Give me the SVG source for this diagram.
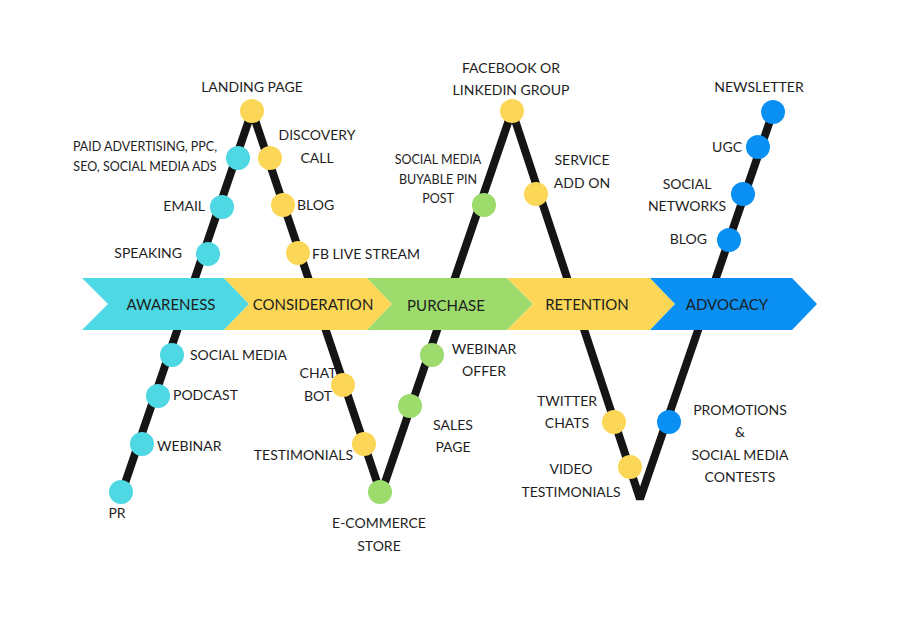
<svg xmlns="http://www.w3.org/2000/svg" width="900" height="630" viewBox="0 0 900 630">
<style>
.t{font-family:Lato,"Liberation Sans",sans-serif;font-size:14px;fill:#1e1e1e}
.s{font-size:12.5px}
.h{font-family:Lato,"Liberation Sans",sans-serif;font-size:15px;fill:#1e1e1e}
.c{fill:#4dd8e3}.y{fill:#fcd757}.g{fill:#9cdb6c}.b{fill:#0a8ff2}
</style>
<rect width="900" height="630" fill="#fff"/>
<g id="connectors">
<polyline points="122,492 252,111 381,494 512,111 640,499 773,112" fill="none" stroke="#151515" stroke-width="8" stroke-linejoin="bevel"/>
</g>
<g id="stages">
<g id="awareness"><polygon class="c" points="82,278 224,278 249,304 224,330 82,330 108,304"/><text class="h" x="171" y="310" text-anchor="middle">AWARENESS</text></g>
<g id="consideration"><polygon class="y" points="224,278 367,278 392,304 367,330 224,330 249,304"/><text class="h" x="313" y="310" text-anchor="middle">CONSIDERATION</text></g>
<g id="purchase"><polygon class="g" points="367,278 507,278 533,304 507,330 367,330 392,304"/><text class="h" x="446" y="311" text-anchor="middle">PURCHASE</text></g>
<g id="retention"><polygon class="y" points="507,278 650,278 675,304 650,330 507,330 533,304"/><text class="h" x="587" y="310" text-anchor="middle">RETENTION</text></g>
<g id="advocacy"><polygon class="b" points="650,278 792,278 817,304 792,330 650,330 675,304"/><text class="h" x="727" y="310" text-anchor="middle">ADVOCACY</text></g>
</g>
<g id="pr"><circle class="c" cx="121" cy="492" r="12"/><text class="t" x="117" y="518" text-anchor="middle">PR</text></g>
<g id="webinar"><circle class="c" cx="142" cy="444" r="12"/><text class="t" x="157" y="451">WEBINAR</text></g>
<g id="podcast"><circle class="c" cx="158" cy="396" r="12"/><text class="t" x="173" y="400">PODCAST</text></g>
<g id="social-media"><circle class="c" cx="172" cy="355" r="12"/><text class="t" x="190" y="360">SOCIAL MEDIA</text></g>
<g id="speaking"><circle class="c" cx="208" cy="254" r="12"/><text class="t" x="182" y="258" text-anchor="end">SPEAKING</text></g>
<g id="email"><circle class="c" cx="222" cy="207" r="12"/><text class="t" x="205" y="211" text-anchor="end">EMAIL</text></g>
<g id="paid"><circle class="c" cx="238" cy="158" r="12"/><text class="t s" x="145" y="151" text-anchor="middle">PAID ADVERTISING, PPC,</text><text class="t s" x="145" y="171" text-anchor="middle">SEO, SOCIAL MEDIA ADS</text></g>
<g id="landing-page"><circle class="y" cx="252" cy="111" r="12"/><text class="t" x="252" y="92" text-anchor="middle">LANDING PAGE</text></g>
<g id="discovery-call"><circle class="y" cx="270" cy="158" r="12"/><text class="t" x="317" y="140" text-anchor="middle">DISCOVERY</text><text class="t" x="317" y="163" text-anchor="middle">CALL</text></g>
<g id="blog1"><circle class="y" cx="283" cy="205" r="12"/><text class="t" x="297" y="210">BLOG</text></g>
<g id="fb-live"><circle class="y" cx="298" cy="253" r="12"/><text class="t" x="312" y="259">FB LIVE STREAM</text></g>
<g id="chat-bot"><circle class="y" cx="343" cy="385" r="12"/><text class="t" x="318" y="378" text-anchor="middle">CHAT</text><text class="t" x="318" y="401" text-anchor="middle">BOT</text></g>
<g id="testimonials"><circle class="y" cx="364" cy="444" r="12"/><text class="t" x="353" y="460" text-anchor="end">TESTIMONIALS</text></g>
<g id="ecommerce"><circle class="g" cx="380" cy="492" r="12"/><text class="t" x="379" y="528" text-anchor="middle">E-COMMERCE</text><text class="t" x="379" y="551" text-anchor="middle">STORE</text></g>
<g id="sales-page"><circle class="g" cx="410" cy="406" r="12"/><text class="t" x="453" y="430" text-anchor="middle">SALES</text><text class="t" x="453" y="452" text-anchor="middle">PAGE</text></g>
<g id="webinar-offer"><circle class="g" cx="432" cy="355" r="12"/><text class="t" x="484" y="354" text-anchor="middle">WEBINAR</text><text class="t" x="484" y="376" text-anchor="middle">OFFER</text></g>
<g id="buyable-pin"><circle class="g" cx="484" cy="205" r="12"/><text class="t s" x="438" y="164" text-anchor="middle">SOCIAL MEDIA</text><text class="t s" x="438" y="184" text-anchor="middle">BUYABLE PIN</text><text class="t s" x="438" y="203" text-anchor="middle">POST</text></g>
<g id="facebook"><circle class="y" cx="512" cy="111" r="12"/><text class="t" x="511" y="73" text-anchor="middle">FACEBOOK OR</text><text class="t" x="511" y="95" text-anchor="middle">LINKEDIN GROUP</text></g>
<g id="service"><circle class="y" cx="536" cy="194" r="12"/><text class="t" x="582" y="165" text-anchor="middle">SERVICE</text><text class="t" x="582" y="188" text-anchor="middle">ADD ON</text></g>
<g id="twitter"><circle class="y" cx="614" cy="422" r="12"/><text class="t" x="567" y="406" text-anchor="middle">TWITTER</text><text class="t" x="567" y="428" text-anchor="middle">CHATS</text></g>
<g id="video"><circle class="y" cx="630" cy="467" r="12"/><text class="t" x="571" y="474" text-anchor="middle">VIDEO</text><text class="t" x="571" y="497" text-anchor="middle">TESTIMONIALS</text></g>
<g id="promotions"><circle class="b" cx="669" cy="422" r="12"/><text class="t" x="740" y="415" text-anchor="middle">PROMOTIONS</text><text class="t" x="740" y="437" text-anchor="middle">&amp;</text><text class="t" x="740" y="460" text-anchor="middle">SOCIAL MEDIA</text><text class="t" x="740" y="482" text-anchor="middle">CONTESTS</text></g>
<g id="blog2"><circle class="b" cx="729" cy="240" r="12"/><text class="t" x="707" y="244" text-anchor="end">BLOG</text></g>
<g id="social-networks"><circle class="b" cx="743" cy="194" r="12"/><text class="t" x="687" y="189" text-anchor="middle">SOCIAL</text><text class="t" x="687" y="211" text-anchor="middle">NETWORKS</text></g>
<g id="ugc"><circle class="b" cx="758" cy="147" r="12"/><text class="t" x="742" y="152" text-anchor="end">UGC</text></g>
<g id="newsletter"><circle class="b" cx="773" cy="112" r="12"/><text class="t" x="759" y="92" text-anchor="middle">NEWSLETTER</text></g>
</svg>
